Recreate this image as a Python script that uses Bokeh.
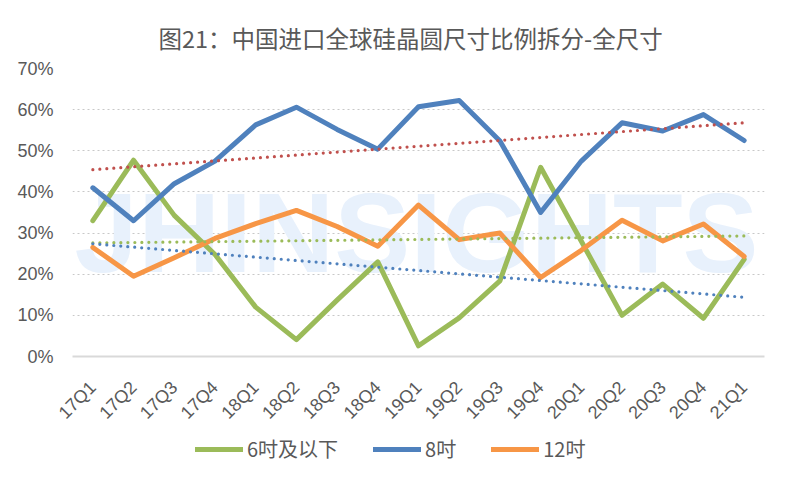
from math import pi
from bokeh.plotting import figure
from bokeh.layouts import column
from bokeh.models import (Range1d, FactorRange, FixedTicker, NumeralTickFormatter,
                          Legend, LegendItem, Label)
from bokeh.embed import file_html
from bokeh.resources import INLINE

title_text = "图21：中国进口全球硅晶圆尺寸比例拆分-全尺寸"
categories = ["17Q1", "17Q2", "17Q3", "17Q4", "18Q1", "18Q2", "18Q3", "18Q4",
              "19Q1", "19Q2", "19Q3", "19Q4", "20Q1", "20Q2", "20Q3", "20Q4", "21Q1"]
series_names = ["6吋及以下", "8吋", "12吋"]
inch6 = [0.330, 0.477, 0.343, 0.248, 0.120, 0.041, 0.137, 0.230, 0.026,
         0.094, 0.184, 0.460, 0.280, 0.100, 0.176, 0.093, 0.236]
inch8 = [0.410, 0.330, 0.420, 0.475, 0.563, 0.606, 0.552, 0.504, 0.607,
         0.622, 0.524, 0.350, 0.475, 0.568, 0.548, 0.588, 0.525]
inch12 = [0.265, 0.195, 0.240, 0.287, 0.323, 0.355, 0.316, 0.268, 0.368,
          0.284, 0.300, 0.192, 0.258, 0.331, 0.281, 0.322, 0.243]
# linear trend lines (start / end values)
trend_x = [categories[0], categories[-1]]
trend8 = [0.454, 0.568]
trend12 = [0.276, 0.293]
trend6 = [0.274, 0.144]
y_ticks = [0.0, 0.1, 0.2, 0.3, 0.4, 0.5, 0.6, 0.7]
watermark = "JHINSIGHTS"

GREEN = "#9bbb59"
BLUE = "#4f81bd"
ORANGE = "#f79646"
RED = "#c0504d"
TXT = "#595959"
colors = [GREEN, BLUE, ORANGE]
series = [inch6, inch8, inch12]

xr = FactorRange(*categories, range_padding=0)

p = figure(width=777, height=432, output_backend="svg", toolbar_location=None,
           x_range=xr, y_range=Range1d(0, 0.7),
           min_border_left=72, min_border_right=13, min_border_top=68,
           min_border_bottom=72)
p.outline_line_color = None
p.background_fill_color = "white"

p.title.text = title_text
p.title.align = "left"
p.title.offset = 86
p.title.standoff = 28
p.title.text_font = "Noto Sans CJK SC"
p.title.text_font_size = "23.5px"
p.title.text_font_style = "normal"
p.title.text_color = TXT

wm = Label(x=0.05, y=0.301, text=watermark, text_font="Liberation Sans",
           text_font_style="bold", text_font_size="114px", text_color="#e8f1fc",
           text_align="left", text_baseline="middle", level="underlay")
p.add_layout(wm)

# axes
p.yaxis.ticker = FixedTicker(ticks=y_ticks)
p.yaxis.formatter = NumeralTickFormatter(format="0%")
p.yaxis.axis_line_color = None
p.yaxis.major_tick_line_color = None
p.yaxis.minor_tick_line_color = None
p.yaxis.major_label_text_font = "Liberation Sans"
p.yaxis.major_label_text_font_size = "18px"
p.yaxis.major_label_text_color = TXT
p.yaxis.major_label_standoff = 13

p.xaxis.axis_line_color = "#d9d9d9"
p.xaxis.axis_line_width = 2
p.xaxis.major_tick_line_color = None
p.xaxis.minor_tick_line_color = None
p.xaxis.major_label_orientation = pi / 4
p.xaxis.major_label_text_font = "Liberation Sans"
p.xaxis.major_label_text_font_size = "18px"
p.xaxis.major_label_text_color = TXT
p.xaxis.major_label_standoff = 22

p.xgrid.grid_line_color = None
p.ygrid.grid_line_color = "#c8c8c8"
p.ygrid.grid_line_dash = "2 3"
p.ygrid.grid_line_width = 1

for vals, col in zip(series, colors):
    p.line(categories, vals, line_color=col, line_width=5,
           line_join="round", line_cap="round")

for vals, col in [(trend8, RED), (trend12, GREEN), (trend6, BLUE)]:
    p.line(trend_x, vals, line_color=col, line_width=3.2, line_dash="0 7",
           line_cap="round")

# legend strip below the chart (series drawn out of view, only the legend shows)
p2 = figure(width=777, height=35, output_backend="svg", toolbar_location=None,
            x_axis_type=None, y_axis_type=None,
            x_range=xr, y_range=Range1d(5, 6), min_border=0)
p2.outline_line_color = None
p2.grid.grid_line_color = None
items = []
for name, vals, col in zip(series_names, series, colors):
    r = p2.line(categories, vals, line_color=col, line_width=5, line_cap="round")
    items.append(LegendItem(label=name, renderers=[r]))
legend = Legend(items=items, orientation="horizontal", location=(123, 4),
                glyph_width=48, glyph_height=14, label_standoff=4, spacing=35,
                padding=0, margin=0, border_line_color=None,
                background_fill_alpha=0,
                label_text_font="Noto Sans CJK SC", label_text_font_size="20px",
                label_text_color=TXT)
p2.add_layout(legend, "center")

open("out.html", "w").write(file_html(column(p, p2), INLINE))
